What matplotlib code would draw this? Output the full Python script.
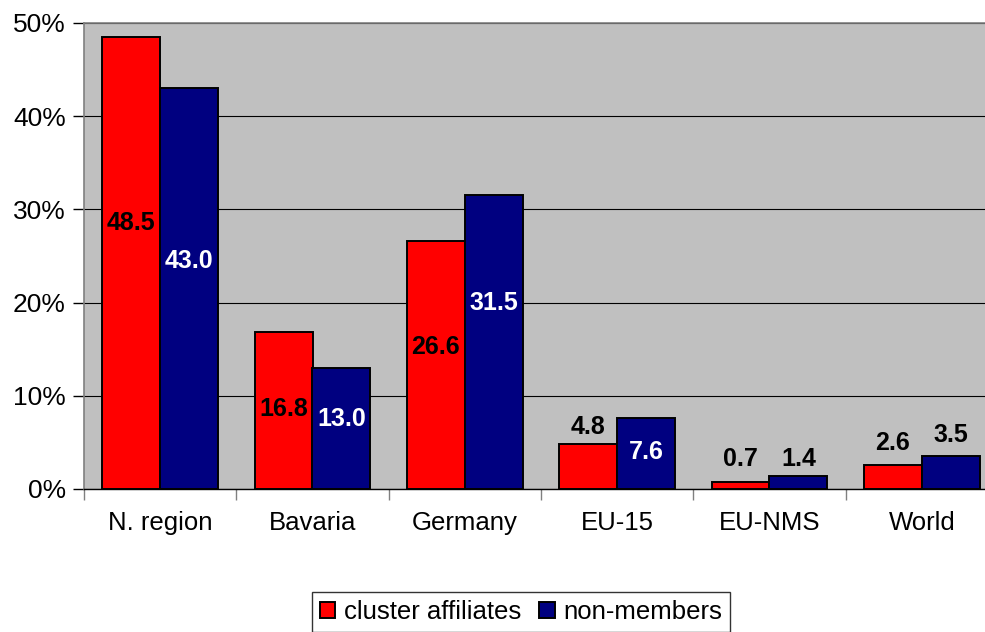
import matplotlib
matplotlib.use("Agg")
import matplotlib.pyplot as plt
import numpy as np

categories = ["N. region", "Bavaria", "Germany", "EU-15", "EU-NMS", "World"]
cluster_affiliates = [48.5, 16.8, 26.6, 4.8, 0.7, 2.6]
non_members = [43.0, 13.0, 31.5, 7.6, 1.4, 3.5]
series_names = ["cluster affiliates", "non-members"]
yticks = [0, 10, 20, 30, 40, 50]

# label heights (data units) as placed in the reference
lab_ca = [28.5, 8.6, 15.2, 6.6, 3.2, 4.9]
lab_nm = [24.5, 7.5, 20.0, 4.0, 3.2, 5.8]

plt.rcParams['font.family'] = ['Liberation Sans', 'DejaVu Sans']

fig = plt.figure(figsize=(9.85, 6.32), dpi=100)
ax = fig.add_axes([84/985, 1-489/632, (998-84)/985, (489-23)/632])
ax.set_facecolor('#C0C0C0')

x = np.arange(len(categories))
w = 0.38
b1 = ax.bar(x - w/2, cluster_affiliates, w, color='#FF0000', edgecolor='black', linewidth=1.4, zorder=3, label=series_names[0])
b2 = ax.bar(x + w/2, non_members, w, color='#000080', edgecolor='black', linewidth=1.4, zorder=3, label=series_names[1])

for i in range(len(categories)):
    ax.text(x[i] - w/2, lab_ca[i], f"{cluster_affiliates[i]:.1f}", ha='center', va='center',
            fontsize=18, fontweight='bold', color='black', zorder=4)
    inside = lab_nm[i] < non_members[i]
    ax.text(x[i] + w/2, lab_nm[i], f"{non_members[i]:.1f}", ha='center', va='center',
            fontsize=18, fontweight='bold', color='white' if inside else 'black', zorder=4)

ax.set_xlim(-0.5, len(categories) - 0.5)
ax.set_ylim(0, 50)
ax.set_yticks(yticks)
ax.set_yticklabels([f"{t}%" for t in yticks], fontsize=19)
ax.yaxis.grid(True, color='black', linewidth=0.8, zorder=1)
ax.set_axisbelow(True)

ax.set_xticks(x)
ax.set_xticklabels(categories, fontsize=18.5)
ax.tick_params(axis='x', length=0, pad=16)
ax.set_xticks(np.arange(len(categories) + 1) - 0.5, minor=True)
ax.tick_params(axis='x', which='minor', length=8, color='#808080', width=1)
ax.tick_params(axis='y', length=8, color='black', width=1, pad=5)

for s in ['left', 'top']:
    ax.spines[s].set_color('#808080')
    ax.spines[s].set_linewidth(1.2)
ax.spines['right'].set_visible(False)
ax.spines['bottom'].set_color('black')
ax.spines['bottom'].set_linewidth(1)

leg = fig.legend(handles=[b1, b2], loc='center', bbox_to_anchor=(521/985, 1-612/632), ncol=2,
                 fontsize=18.5, frameon=True, fancybox=False, edgecolor='black',
                 handlelength=0.6, handleheight=0.6, handletextpad=0.35, columnspacing=0.7,
                 borderpad=0.3, borderaxespad=0)
leg.get_frame().set_linewidth(1)

fig.savefig("out.png", dpi=100)
